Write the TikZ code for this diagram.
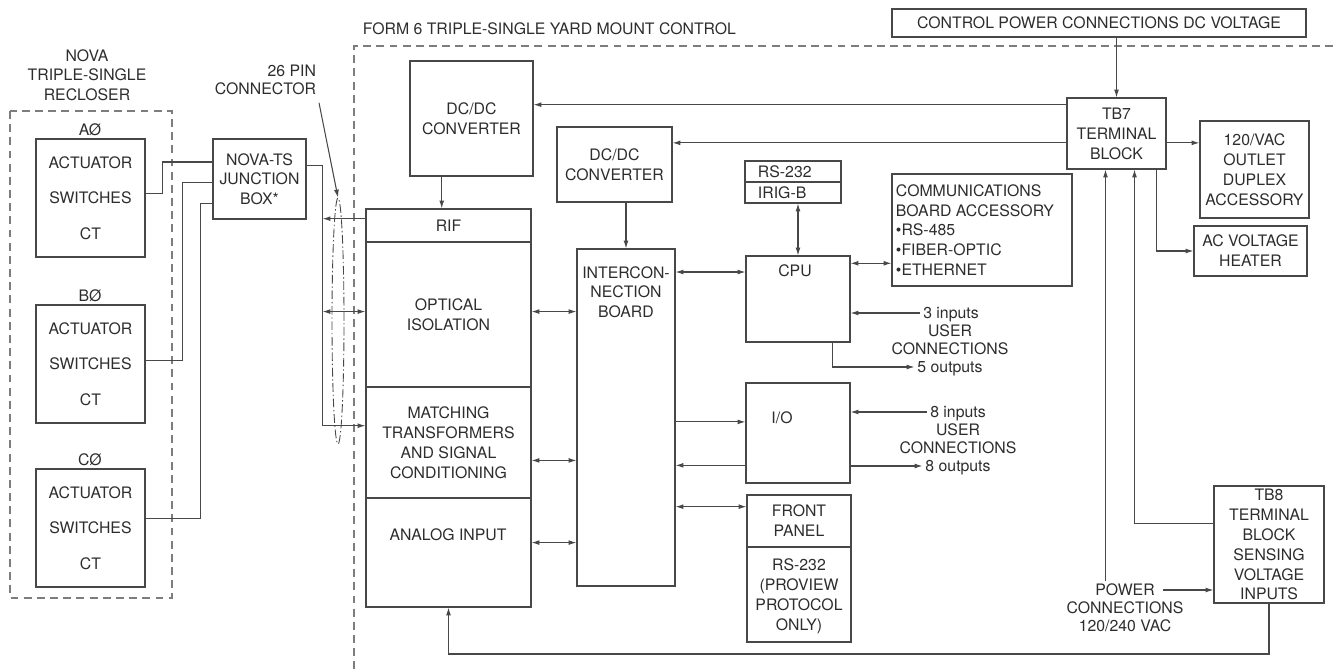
\documentclass[tikz,border=0pt]{standalone}
\usepackage{fontspec}
\setmainfont{TeX Gyre Heros}
\usetikzlibrary{arrows.meta,calc,shapes.geometric}
\definecolor{figL}{RGB}{72,72,72}
\definecolor{figT}{RGB}{45,45,45}
\definecolor{figD}{RGB}{125,125,125}

\begin{document}
\begin{tikzpicture}[x=0.02cm,y=-0.02cm,>={Latex[length=4.5pt,width=2.8pt]},
  every node/.style={text=figT,font=\fontsize{9}{11.3}\selectfont,inner sep=1.5pt,text depth=0pt},
  blk/.style={draw=figL,line width=0.6pt,inner sep=0pt,align=center},
  sq/.style n args={4}{minimum width={(#3-#1)*0.02cm},minimum height={(#4-#2)*0.02cm},
    at={({(#1+#3)/2},{(#2+#4)/2})}},
  wire/.style={draw=figL,line width=0.6pt},
  frame/.style={draw=figD,line width=0.7pt,dash pattern=on 4.5pt off 3pt}]
\useasboundingbox (0,0) rectangle (1333,672);

% recloser side
\node[align=center] (recl) at (87,75) {NOVA\\TRIPLE-SINGLE\\RECLOSER};
\draw[frame] (10,111) rectangle (172,598);
\foreach \ph/\y in {A/139,B/305,C/469}{
  \node (lbl\ph) at (90,\y-9) {\ph Ø};
  \node[blk,sq={36}{\y}{145}{\y+118}] (act\ph) {ACTUATOR\\[9.1pt]SWITCHES\\[9.1pt]CT};
}
\node[blk,sq={213}{139}{306}{219},text depth=-9pt] (jb) {NOVA-TS\\JUNCTION\\BOX*};
\foreach \ph/\a/\dx/\b in {A/.46/17/.29,B/.47/37/.54,C/.42/55/.8}
  \draw[wire] ($(act\ph.north east)!\a!(act\ph.south east)$) -- ++(\dx,0)
    |- ($(jb.north west)!\b!(jb.south west)$);

% cable to the control
\node[ellipse,draw=figL,line width=0.5pt,dash pattern=on 5pt off 1.5pt on 0.8pt off 1.5pt,
  minimum width=0.24cm,minimum height=4.92cm,inner sep=0pt] (cable) at (338,321) {};
\node[anchor=east,align=right,font=\fontsize{9}{10}\selectfont] (pin) at (319,80) {26 PIN\\CONNECTOR};
\draw[wire,->] ([yshift=-3pt]pin.south east) -- (cable.north);

% control cabinet
\draw[frame] (1333,46) -- (354,46) -- (354,672);
\node[anchor=west] (ttl) at (360,29) {FORM 6 TRIPLE-SINGLE YARD MOUNT CONTROL};

\node[blk,sq={410}{61}{533}{176}] (dc1) {DC/DC\\CONVERTER};
\node[blk,sq={366}{209}{531}{242}] (rif) {RIF};
\node[blk,sq={366}{242}{531}{387}] (opt) {OPTICAL\\ISOLATION};
\node[blk,sq={366}{387}{531}{498}] (mtx) {MATCHING\\TRANSFORMERS\\AND SIGNAL\\CONDITIONING};
\node[blk,sq={366}{498}{531}{607}] (ana) {};
\node (anaT) at (448,535) {ANALOG INPUT};
\node[blk,sq={557}{127}{672}{202}] (dc2) {DC/DC\\CONVERTER};
\node[blk,sq={577}{249}{675}{586}] (icb) {};
\node[align=center] (icbT) at (626,292) {INTERCON-\\NECTION\\BOARD};

\node[blk,sq={745}{161}{841}{182}] (rs) {};
\node[anchor=west] (rsT) at (755,172) {RS-232};
\node[blk,sq={745}{182}{841}{203}] (irig) {};
\node[anchor=west] (irigT) at (755,193) {IRIG-B};
\node[blk,sq={746}{256}{850}{342}] (cpu) {};
\node (cpuT) at (795,271) {CPU};
\node[blk,sq={892}{174}{1072}{286}] (comms) {};
\node[anchor=west,align=left] (commsT) at (893,230)
  {COMMUNICATIONS\\BOARD ACCESSORY\\•RS-485\\•FIBER-OPTIC\\•ETHERNET};
\node[blk,sq={746}{383}{850}{483}] (io) {};
\node (ioT) at (782,418) {I/O};
\node[blk,sq={747}{495}{851}{547}] (fp) {FRONT\\PANEL};
\node[blk,sq={747}{547}{851}{642}] (fprs) {RS-232\\(PROVIEW\\PROTOCOL\\ONLY)};

\node (in3) at (951,313) {3 inputs};
\node[align=center,font=\fontsize{9}{10.2}\selectfont] (usr1) at (950,340) {USER\\CONNECTIONS};
\node (out5) at (950,367) {5 outputs};
\node (in8) at (958,412) {8 inputs};
\node[align=center,font=\fontsize{9}{10.2}\selectfont] (usr2) at (958,439) {USER\\CONNECTIONS};
\node (out8) at (958,466) {8 outputs};

\node[blk,sq={892}{9}{1306}{37}] (cp) {CONTROL POWER CONNECTIONS DC VOLTAGE};
\node[blk,sq={1067}{98}{1166}{169}] (tb7) {TB7\\TERMINAL\\BLOCK};
\node[blk,sq={1200}{121}{1309}{218}] (ac120) {120/VAC\\OUTLET\\DUPLEX\\ACCESSORY};
\node[blk,sq={1194}{226}{1307}{276}] (htr) {AC VOLTAGE\\HEATER};
\node[blk,sq={1214}{486}{1324}{603}] (tb8) {TB8\\TERMINAL\\BLOCK\\SENSING\\VOLTAGE\\INPUTS};
\node (pwr1) at (1125,590) {POWER};
\node[align=center,font=\fontsize{9}{10.2}\selectfont] (pwr2) at (1125,617) {CONNECTIONS\\120/240 VAC};

% ports
\coordinate (jbE) at ($(jb.north east)!.33!(jb.south east)$);
\coordinate (bus) at ($(jbE)+(16,0)$);
\coordinate (rifW) at ($(rif.north west)!.3!(rif.south west)$);
\coordinate (optW) at ($(opt.north west)!.48!(opt.south west)$);
\coordinate (mtxW) at ($(mtx.north west)!.35!(mtx.south west)$);
\coordinate (optE) at ($(opt.north east)!.48!(opt.south east)$);
\coordinate (mtxE) at ($(mtx.north east)!.66!(mtx.south east)$);
\coordinate (anaE) at ($(ana.north east)!.41!(ana.south east)$);
\coordinate (d1s) at ($(dc1.south west)!.26!(dc1.south east)$);
\coordinate (cpuW) at ($(cpu.north west)!.19!(cpu.south west)$);
\coordinate (cpuE) at ($(cpu.north east)!.09!(cpu.south east)$);
\coordinate (cpuS) at ($(cpu.south west)!.83!(cpu.south east)$);
\coordinate (ioW1) at ($(io.north west)!.39!(io.south west)$);
\coordinate (ioW2) at ($(io.north west)!.82!(io.south west)$);
\coordinate (fpW) at ($(fp.north west)!.23!(fp.south west)$);
\coordinate (t7a) at ($(tb7.north west)!.1!(tb7.south west)$);
\coordinate (t7b) at ($(tb7.north west)!.63!(tb7.south west)$);
\coordinate (t7c) at ($(tb7.south west)!.9!(tb7.south east)$);
\coordinate (t7d) at ($(tb7.south west)!.39!(tb7.south east)$);
\coordinate (t7e) at ($(tb7.south west)!.68!(tb7.south east)$);
\coordinate (t8w) at ($(tb8.north west)!.32!(tb8.south west)$);
\coordinate (rtn) at (0,654);

% connections
\draw[wire,->] (jbE) -- (bus) |- (mtxW);
\draw[wire,->] (rifW) -- (rifW -| bus);
\draw[wire,<->] (optW -| bus) -- (optW);
\draw[wire,->] (d1s) -- (d1s |- rif.north);
\draw[wire,->] (icb.north |- dc2.south) -- (icb.north);
\draw[wire,<->] (optE) -- (optE -| icb.west);
\draw[wire,<->] (mtxE) -- (mtxE -| icb.west);
\draw[wire,<->] (anaE) -- (anaE -| icb.west);
\draw[wire,<->] (cpuW -| icb.east) -- (cpuW);
\draw[wire,<->] (cpu.north |- irig.south) -- (cpu.north);
\draw[wire,<->] (cpuE) -- (cpuE -| comms.west);
\draw[wire,->] (in3.west) -- (in3.west -| cpu.east);
\draw[wire,->] (cpuS) |- (out5.west);
\draw[wire,->] (ioW1 -| icb.east) -- (ioW1);
\draw[wire,->] (ioW2) -- (ioW2 -| icb.east);
\draw[wire,->] (in8.west) -- (in8.west -| io.east);
\draw[wire,->] (out8.west -| io.east) -- (out8.west);
\draw[wire,<->] (fpW -| icb.east) -- (fpW);
\draw[wire,->] (tb7.north |- cp.south) -- (tb7.north);
\draw[wire,->] (t7a) -- (t7a -| dc1.east);
\draw[wire,->] (t7b) -- (t7b -| dc2.east);
\draw[wire,->] (t7b -| tb7.east) -- (t7b -| ac120.west);
\draw[wire,->] (t7c) |- (htr.west);
\draw[wire,->] (t7d |- pwr1.north) -- (t7d);
\draw[wire,->] (t8w) -| (t7e);
\draw[wire,->] ([xshift=3pt]pwr1.east) -- (pwr1.east -| tb8.west);
\draw[wire,->] (tb8.south) |- (ana.south |- rtn) -- (ana.south);
\end{tikzpicture}
\end{document}
